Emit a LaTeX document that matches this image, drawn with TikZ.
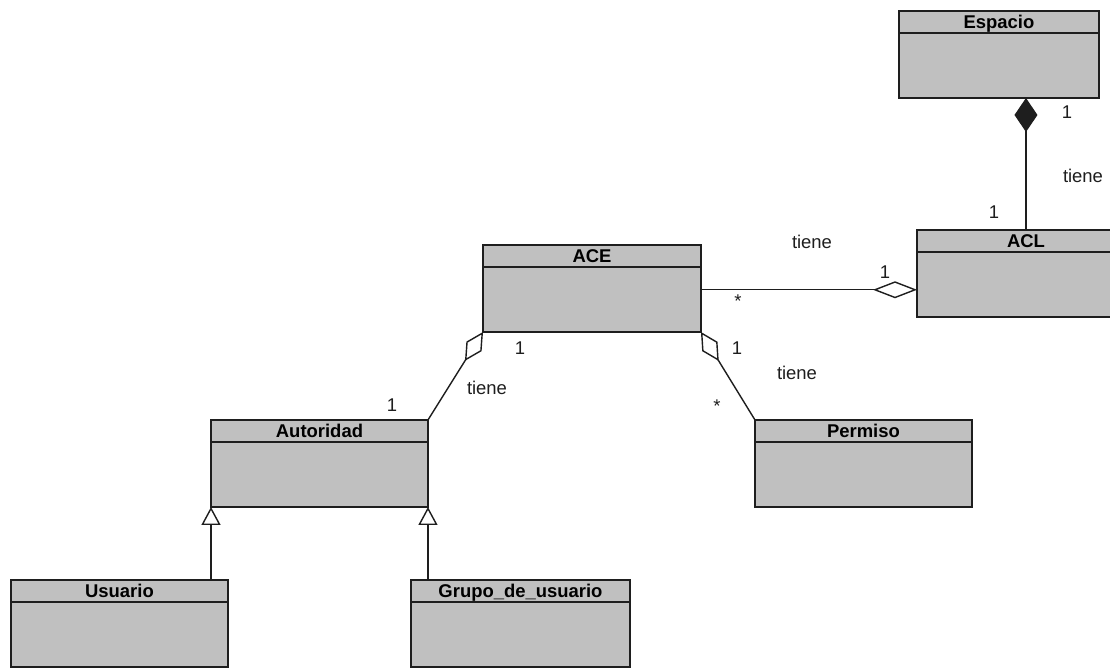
\documentclass[tikz,border=0pt]{standalone}
\usepackage{fontspec}
\setmainfont{Liberation Sans}
\usepackage{xcolor}
\usepackage{tikz}
\usetikzlibrary{arrows.meta,positioning}
\definecolor{classbg}{HTML}{C0C0C0}
\definecolor{ink}{HTML}{1E1E1E}
\tikzset{
  classhead/.style={draw=ink,fill=classbg,line width=0.8pt,anchor=north west,
                    minimum height=0.44cm,inner sep=0pt,outer sep=0pt,
                    text height=7.5pt,text depth=0pt,
                    font=\fontsize{10.5}{12}\selectfont\bfseries},
  classbody/.style={draw=ink,fill=classbg,line width=0.8pt,
                    minimum height=1.3cm,inner sep=0pt,outer sep=0pt},
  mult/.style={font=\fontsize{10.5}{12}\selectfont,ink,inner sep=1pt},
  comp/.style={-{Diamond[length=0.68cm,width=0.46cm]},line width=0.8pt,ink},
  aggr/.style={-{Diamond[open,fill=white,length=0.88cm,width=0.34cm]},
               line width=0.8pt,ink},
  aggrs/.style={-{Diamond[open,fill=white,length=0.68cm,width=0.36cm]},
                line width=0.8pt,ink},
  gen/.style={-{Triangle[open,fill=white,length=0.36cm,width=0.38cm]},
              line width=0.8pt,ink},
}
\begin{document}
\begin{tikzpicture}[x=0.02cm,y=-0.02cm]
  \useasboundingbox[fill=white](0,0)rectangle(1110,667);
  % Classes
  \node[classhead,minimum width=4cm](esp)at(899,11){Espacio};
  \node[classbody,minimum width=4cm,below=0pt of esp](espb){};
  \node[classhead,minimum width=4.36cm](acl)at(917,230){ACL};
  \node[classbody,minimum width=4.36cm,below=0pt of acl](aclb){};
  \node[classhead,minimum width=4.36cm](ace)at(483,245){ACE};
  \node[classbody,minimum width=4.36cm,below=0pt of ace](aceb){};
  \node[classhead,minimum width=4.34cm](aut)at(211,420){Autoridad};
  \node[classbody,minimum width=4.34cm,below=0pt of aut](autb){};
  \node[classhead,minimum width=4.34cm](per)at(755,420){Permiso};
  \node[classbody,minimum width=4.34cm,below=0pt of per](perb){};
  \node[classhead,minimum width=4.34cm](usu)at(11,580){Usuario};
  \node[classbody,minimum width=4.34cm,below=0pt of usu](usub){};
  \node[classhead,minimum width=4.38cm](gru)at(411,580){Grupo\_de\_usuario};
  \node[classbody,minimum width=4.38cm,below=0pt of gru](grub){};
  % Associations
  \draw[comp](acl.north)--(acl.north |- espb.south);
  \draw[aggr]([yshift=-3pt]aclb.west -| aceb.east)--([yshift=-3pt]aclb.west);
  \draw[aggrs](aut.north east)--(aceb.south west);
  \draw[aggrs](per.north west)--(aceb.south east);
  % Generalizations
  \draw[gen](autb.south west |- usu.north)--(autb.south west);
  \draw[gen](autb.south east |- gru.north)--(autb.south east);
  % Labels
  \node[mult](m1)at(1067,112){1};
  \node[mult](t1)at(1083,176){tiene};
  \node[mult](m2)at(994,212){1};
  \node[mult](t2)at(812,242){tiene};
  \node[mult](m3)at(885,272){1};
  \node[mult](s1)at(738,301){*};
  \node[mult](m4)at(520,348){1};
  \node[mult](t3)at(487,388){tiene};
  \node[mult](m5)at(392,405){1};
  \node[mult](m6)at(737,348){1};
  \node[mult](t4)at(797,373){tiene};
  \node[mult](s2)at(717,406){*};
\end{tikzpicture}
\end{document}
